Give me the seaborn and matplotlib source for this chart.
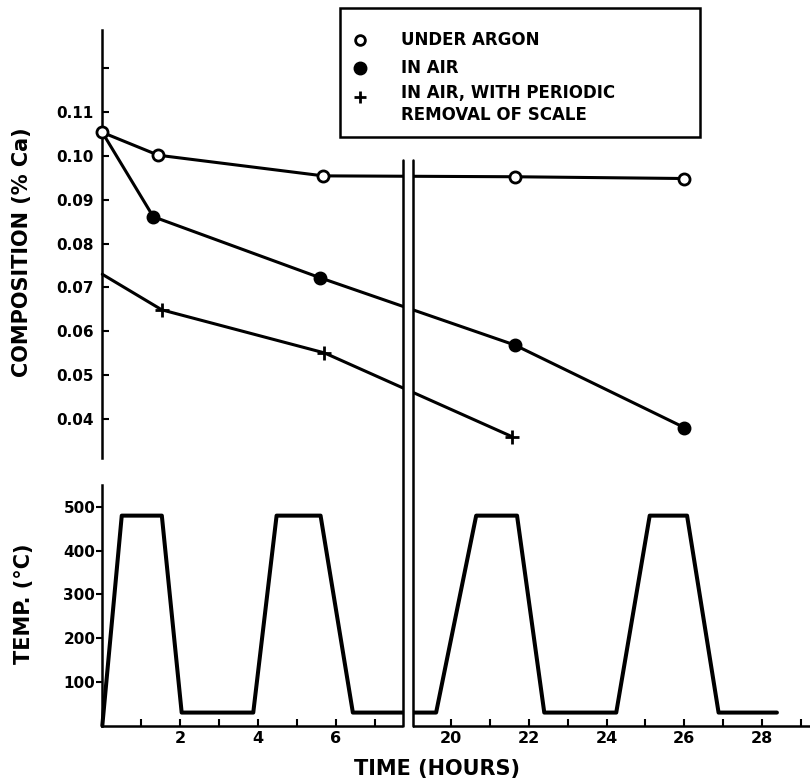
import numpy as np
import matplotlib.pyplot as plt
import seaborn as sns
from matplotlib.lines import Line2D
from matplotlib.patches import Rectangle
from matplotlib.transforms import blended_transform_factory

sns.set_style("white")
plt.rcParams['font.family'] = ['DejaVu Sans']
plt.rcParams['font.weight'] = 'bold'
plt.rcParams['text.color'] = 'black'
plt.rcParams['axes.labelcolor'] = 'black'
plt.rcParams['xtick.color'] = 'black'
plt.rcParams['ytick.color'] = 'black'

# calcium content vs time (hours, % Ca)
argon_hours = [0.0, 1.44, 5.68, 21.64, 25.98]
argon_ca = [0.1053, 0.1001, 0.0954, 0.0952, 0.0948]
air_hours = [0.0, 1.31, 5.60, 21.64, 26.00]
air_ca = [0.1053, 0.0861, 0.0722, 0.0569, 0.0381]
scale_hours = [0.0, 1.53, 5.71, 21.58]
scale_ca = [0.0730, 0.0649, 0.0551, 0.0360]

# furnace temperature cycle
temp_hours = [0.0, 0.50, 1.53, 2.04, 3.88, 4.48, 5.61, 6.44, 7.73,
              19.62, 20.65, 21.70, 22.40, 24.25, 25.11, 26.07, 26.88, 28.38]
temp_c = [0, 480, 480, 30, 30, 480, 480, 30, 30,
          30, 480, 480, 30, 30, 480, 480, 30, 30]

label_hours = [2, 4, 6, 20, 22, 24, 26, 28]
minor_hours = [1, 3, 5, 7, 21, 23, 25, 27, 29]
comp_ticks = [0.04, 0.05, 0.06, 0.07, 0.08, 0.09, 0.10, 0.11, 0.12]
temp_ticks = [100, 200, 300, 400, 500]

GAP_SHIFT = 11.04          # hours cut out of the time axis
BREAK_X = (7.74, 7.98)     # where the axis is broken (squeezed units)


def squeeze(hours):
    """map real hours onto the broken time axis"""
    h = np.asarray(hours, dtype=float)
    return np.where(h > 12, h - GAP_SHIFT, h)


fig = plt.figure(figsize=(8.1, 7.82), dpi=100)
ax_top = fig.add_axes([0.1263, 0.4139, 0.8737, 0.5477])
ax_bot = fig.add_axes([0.1263, 0.0720, 0.8737, 0.3078])

line_kw = dict(color='black', lw=2.2, estimator=None, sort=False,
               clip_on=False, zorder=3, legend=False)

# --- composition panel
sns.lineplot(x=squeeze(air_hours), y=air_ca, ax=ax_top, marker='o', ms=8.5,
             mfc='black', mec='black', mew=1.5, markevery=[1, 2, 3, 4], **line_kw)
sns.lineplot(x=squeeze(scale_hours), y=scale_ca, ax=ax_top, marker='+', ms=10,
             mec='black', mew=2, markevery=[1, 2, 3], **line_kw)
sns.lineplot(x=squeeze(argon_hours), y=argon_ca, ax=ax_top, marker='o', ms=8,
             mfc='white', mec='black', mew=2, **line_kw)

ax_top.set_xlim(0, 18.19)
ax_top.set_ylim(0.0311, 0.1286)
for side in ['top', 'right', 'bottom']:
    ax_top.spines[side].set_visible(False)
ax_top.spines['left'].set_linewidth(1.8)
ax_top.spines['left'].set_color('black')
ax_top.set_xticks([])
ax_top.set_yticks(comp_ticks)
ax_top.set_yticklabels([f'{v:.2f}' for v in comp_ticks[:-1]] + [''])
ax_top.tick_params(axis='y', direction='in', length=5, width=1.5, pad=6,
                   labelsize=11, color='black', left=True)
ax_top.set_ylabel('COMPOSITION (% Ca)', fontsize=15, fontweight='bold')
ax_top.yaxis.set_label_coords(-0.1, 0.482)
ax_top.set_xlabel('')

# --- temperature panel
sns.lineplot(x=squeeze(temp_hours), y=temp_c, ax=ax_bot, color='black',
             lw=2.9, estimator=None, sort=False, clip_on=False, legend=False)

ax_bot.set_xlim(0, 18.19)
ax_bot.set_ylim(0, 550)
for side in ['top', 'right']:
    ax_bot.spines[side].set_visible(False)
for side in ['left', 'bottom']:
    ax_bot.spines[side].set_linewidth(1.8)
    ax_bot.spines[side].set_color('black')
ax_bot.set_yticks(temp_ticks)
ax_bot.set_yticklabels([str(v) for v in temp_ticks])
ax_bot.tick_params(axis='y', direction='out', length=4, width=1.5, pad=1,
                   labelsize=11, color='black', left=True)
ax_bot.set_xticks(squeeze(label_hours))
ax_bot.set_xticklabels([str(h) for h in label_hours])
ax_bot.set_xticks(squeeze(minor_hours), minor=True)
ax_bot.tick_params(axis='x', which='both', direction='in', length=5, width=1.5,
                   pad=4, labelsize=11.5, color='black', bottom=True)
ax_bot.set_ylabel('TEMP. (°C)', fontsize=15, fontweight='bold')
ax_bot.yaxis.set_label_coords(-0.096, 0.506)
ax_bot.set_xlabel('TIME (HOURS)', fontsize=15, fontweight='bold')
ax_bot.xaxis.set_label_coords(0.473, -0.138)

# --- axis break, drawn across both panels
trans = blended_transform_factory(ax_bot.transData, fig.transFigure)
y_lo, y_hi = 1 - 726 / 782, 1 - 160 / 782
fig.add_artist(Rectangle((BREAK_X[0], 1 - 732 / 782), BREAK_X[1] - BREAK_X[0],
                         y_hi - (1 - 732 / 782), transform=trans,
                         facecolor='white', edgecolor='none', zorder=5))
for bx in BREAK_X:
    fig.add_artist(Line2D([bx, bx], [y_lo, y_hi], transform=trans,
                          color='black', lw=1.8, zorder=6))

# --- legend box
W, H = 810, 782
fig.add_artist(Rectangle((340 / W, 1 - 137 / H), 360 / W, 129 / H,
                         transform=fig.transFigure, fill=False,
                         edgecolor='black', lw=1.8, zorder=5))
legend_rows = [
    ('UNDER ARGON', 40, dict(marker='o', ms=7, mfc='white', mec='black', mew=2)),
    ('IN AIR', 68, dict(marker='o', ms=9, mfc='black', mec='black')),
    ('IN AIR, WITH PERIODIC\nREMOVAL OF SCALE', 104,
     dict(marker='+', ms=9, mec='black', mew=2)),
]
for text, ypx, mk in legend_rows:
    marker_y = 97 if mk['marker'] == '+' else ypx
    fig.add_artist(Line2D([360 / W], [1 - marker_y / H], transform=fig.transFigure,
                          linestyle='none', zorder=6, **mk))
    fig.text(401 / W, 1 - ypx / H, text, fontsize=12, fontweight='bold',
             va='center', ha='left', linespacing=1.3)

fig.savefig('out.png', dpi=100)
